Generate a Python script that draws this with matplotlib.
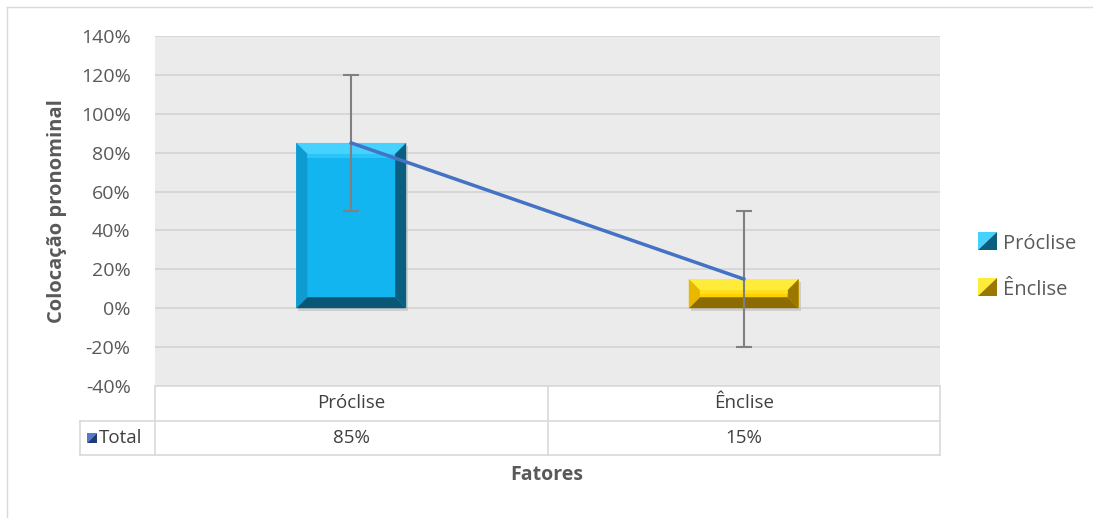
import numpy as np
import matplotlib
matplotlib.use("Agg")
import matplotlib.pyplot as plt
from matplotlib.patches import Polygon, Patch, Rectangle
from matplotlib.lines import Line2D

# data
categories = ["Próclise", "Ênclise"]
values = [0.85, 0.15]
errors = [0.35, 0.35]
series_name = "Total"
y_ticks = [-0.4, -0.2, 0.0, 0.2, 0.4, 0.6, 0.8, 1.0, 1.2, 1.4]

# face colours: front, top, left, right, bottom
bevels = [
    ("#13B5F0", "#45D2FF", "#0F9AD0", "#0A5E80", "#0B5675"),
    ("#FFD000", "#FFEC3A", "#E8B800", "#9A7800", "#8C6C00"),
]


class BevelHandler:
    # legend square split on the diagonal, light upper-left / dark lower-right
    def legend_artist(self, legend, orig_handle, fontsize, handlebox):
        x0, y0 = handlebox.xdescent, handlebox.ydescent
        w = h = handlebox.height * 1.2
        y0 = y0 - 0.1 * h
        up = Polygon([(x0, y0), (x0, y0 + h), (x0 + w, y0 + h)],
                     color=orig_handle.light, transform=handlebox.get_transform(), lw=0)
        dn = Polygon([(x0, y0), (x0 + w, y0), (x0 + w, y0 + h)],
                     color=orig_handle.dark, transform=handlebox.get_transform(), lw=0)
        handlebox.add_artist(up)
        handlebox.add_artist(dn)
        return up


plt.rcParams["font.family"] = ["Open Sans", "DejaVu Sans"]
W, H = 1093, 518
fig = plt.figure(figsize=(W / 100, H / 100), dpi=100)

# plot area in pixels
left, right, top, bottom = 155, 940, 36, 386
ax = fig.add_axes([left / W, 1 - bottom / H, (right - left) / W, (bottom - top) / H])
ax.set_facecolor("#EBEBEB")
ax.set_xlim(-0.5, len(categories) - 0.5)
ax.set_ylim(y_ticks[0], y_ticks[-1])
ax.set_yticks(y_ticks)
ax.set_yticklabels([f"{t * 100:.0f}%" for t in y_ticks], color="#595959", fontsize=14)
ax.set_xticks([])
ax.tick_params(axis="y", length=0, pad=17.5)
ax.grid(axis="y", color="#D4D4D4", linewidth=1.2)
ax.set_axisbelow(True)
for s in ax.spines.values():
    s.set_visible(False)

x = np.arange(len(categories))
bw = 0.28
bars = ax.bar(x, values, width=bw, color=[b[0] for b in bevels], zorder=2)

# bevel size in data units (about 11 px)
px_x = (len(categories)) / (right - left)
px_y = (y_ticks[-1] - y_ticks[0]) / (bottom - top)
bx, by = 11 * px_x, 11 * px_y
for rect, col in zip(bars, bevels):
    x0, y0 = rect.get_x(), rect.get_y()
    x1, y1 = x0 + rect.get_width(), y0 + rect.get_height()
    front, topc, leftc, rightc, botc = col
    # drop shadow
    ax.add_patch(Rectangle((x0 + 2 * px_x, y0 - 3 * px_y), x1 - x0, y1 - y0,
                           color="#BDBDBD", alpha=0.6, zorder=1.5, lw=0))
    ax.add_patch(Polygon([(x0, y1), (x1, y1), (x1 - bx, y1 - by), (x0 + bx, y1 - by)],
                         color=topc, zorder=3, lw=0))
    ax.add_patch(Polygon([(x0, y0), (x1, y0), (x1 - bx, y0 + by), (x0 + bx, y0 + by)],
                         color=botc, zorder=3, lw=0))
    ax.add_patch(Polygon([(x0, y0), (x0, y1), (x0 + bx, y1 - by), (x0 + bx, y0 + by)],
                         color=leftc, zorder=3, lw=0))
    ax.add_patch(Polygon([(x1, y0), (x1, y1), (x1 - bx, y1 - by), (x1 - bx, y0 + by)],
                         color=rightc, zorder=3, lw=0))
    # thin highlight strip under the top bevel
    ax.add_patch(Rectangle((x0 + bx, y1 - by - 4 * px_y), x1 - x0 - 2 * bx, 4 * px_y,
                           color=topc, alpha=0.5, zorder=3, lw=0))

ax.errorbar(x, values, yerr=errors, fmt="none", ecolor="#808080", elinewidth=1.5,
            capsize=6, capthick=1.5, zorder=4)
ax.plot(x, values, color="#4472C4", linewidth=2.5, zorder=5)

# data table under the plot
tr = ax.get_xaxis_transform()
row_h = 34.5 / (bottom - top)
lc = "#D9D9D9"
x_left = -0.5 - 75 * px_x
ax.plot([-0.5, len(categories) - 0.5], [0, 0], transform=tr, color=lc, lw=1.2, clip_on=False)
for yy in (-row_h, -2 * row_h):
    ax.plot([x_left, len(categories) - 0.5], [yy, yy], transform=tr, color=lc, lw=1.2, clip_on=False)
for xx in np.arange(-0.5, len(categories), 1.0):
    ax.plot([xx, xx], [0, -2 * row_h], transform=tr, color=lc, lw=1.2, clip_on=False)
ax.plot([x_left, x_left], [-row_h, -2 * row_h], transform=tr, color=lc, lw=1.2, clip_on=False)
for i, (c, v) in enumerate(zip(categories, values)):
    ax.text(i, -0.5 * row_h, c, transform=tr, ha="center", va="center", fontsize=13.5, color="#404040")
    ax.text(i, -1.5 * row_h, f"{v * 100:.0f}%", transform=tr, ha="center", va="center",
            fontsize=13.5, color="#404040")
mk_w, mk_h = 10 * px_x, 10 / (bottom - top)
mx, my = x_left + 7 * px_x, -1.5 * row_h - mk_h / 2
ax.add_patch(Polygon([(mx, my), (mx, my + mk_h), (mx + mk_w, my + mk_h)], transform=tr,
                     color="#4F7BC8", clip_on=False, lw=0))
ax.add_patch(Polygon([(mx, my), (mx + mk_w, my), (mx + mk_w, my + mk_h)], transform=tr,
                     color="#1F3C78", clip_on=False, lw=0))
ax.text(x_left + 19 * px_x, -1.5 * row_h, series_name, transform=tr, ha="left", va="center",
        fontsize=13.5, color="#404040")

fig.text(547 / W, 1 - 475 / H, "Fatores", ha="center", va="center", fontsize=14,
         fontweight="bold", color="#595959")
fig.text(57 / W, 1 - 211 / H, "Colocação pronominal", ha="center", va="center", rotation=90,
         fontsize=14.5, fontweight="bold", color="#595959")

handles = []
for b, c in zip(bevels, categories):
    p = Patch(label=c)
    p.light, p.dark = b[1], b[3]
    handles.append(p)
fig.legend(handles=handles, handler_map={Patch: BevelHandler()}, loc="center left",
           bbox_to_anchor=(960 / W, 1 - 267 / H), frameon=False, fontsize=14.5,
           labelcolor="#595959", handlelength=0.8, handleheight=0.8, handletextpad=0.45,
           labelspacing=1.3)

# outer chart border (top and left edges visible)
fig.add_artist(Line2D([7 / W, 1], [1 - 7 / H, 1 - 7 / H], transform=fig.transFigure,
                      color="#D9D9D9", lw=1))
fig.add_artist(Line2D([7 / W, 7 / W], [0, 1 - 7 / H], transform=fig.transFigure,
                      color="#D9D9D9", lw=1))

fig.savefig("out.png", dpi=100)
